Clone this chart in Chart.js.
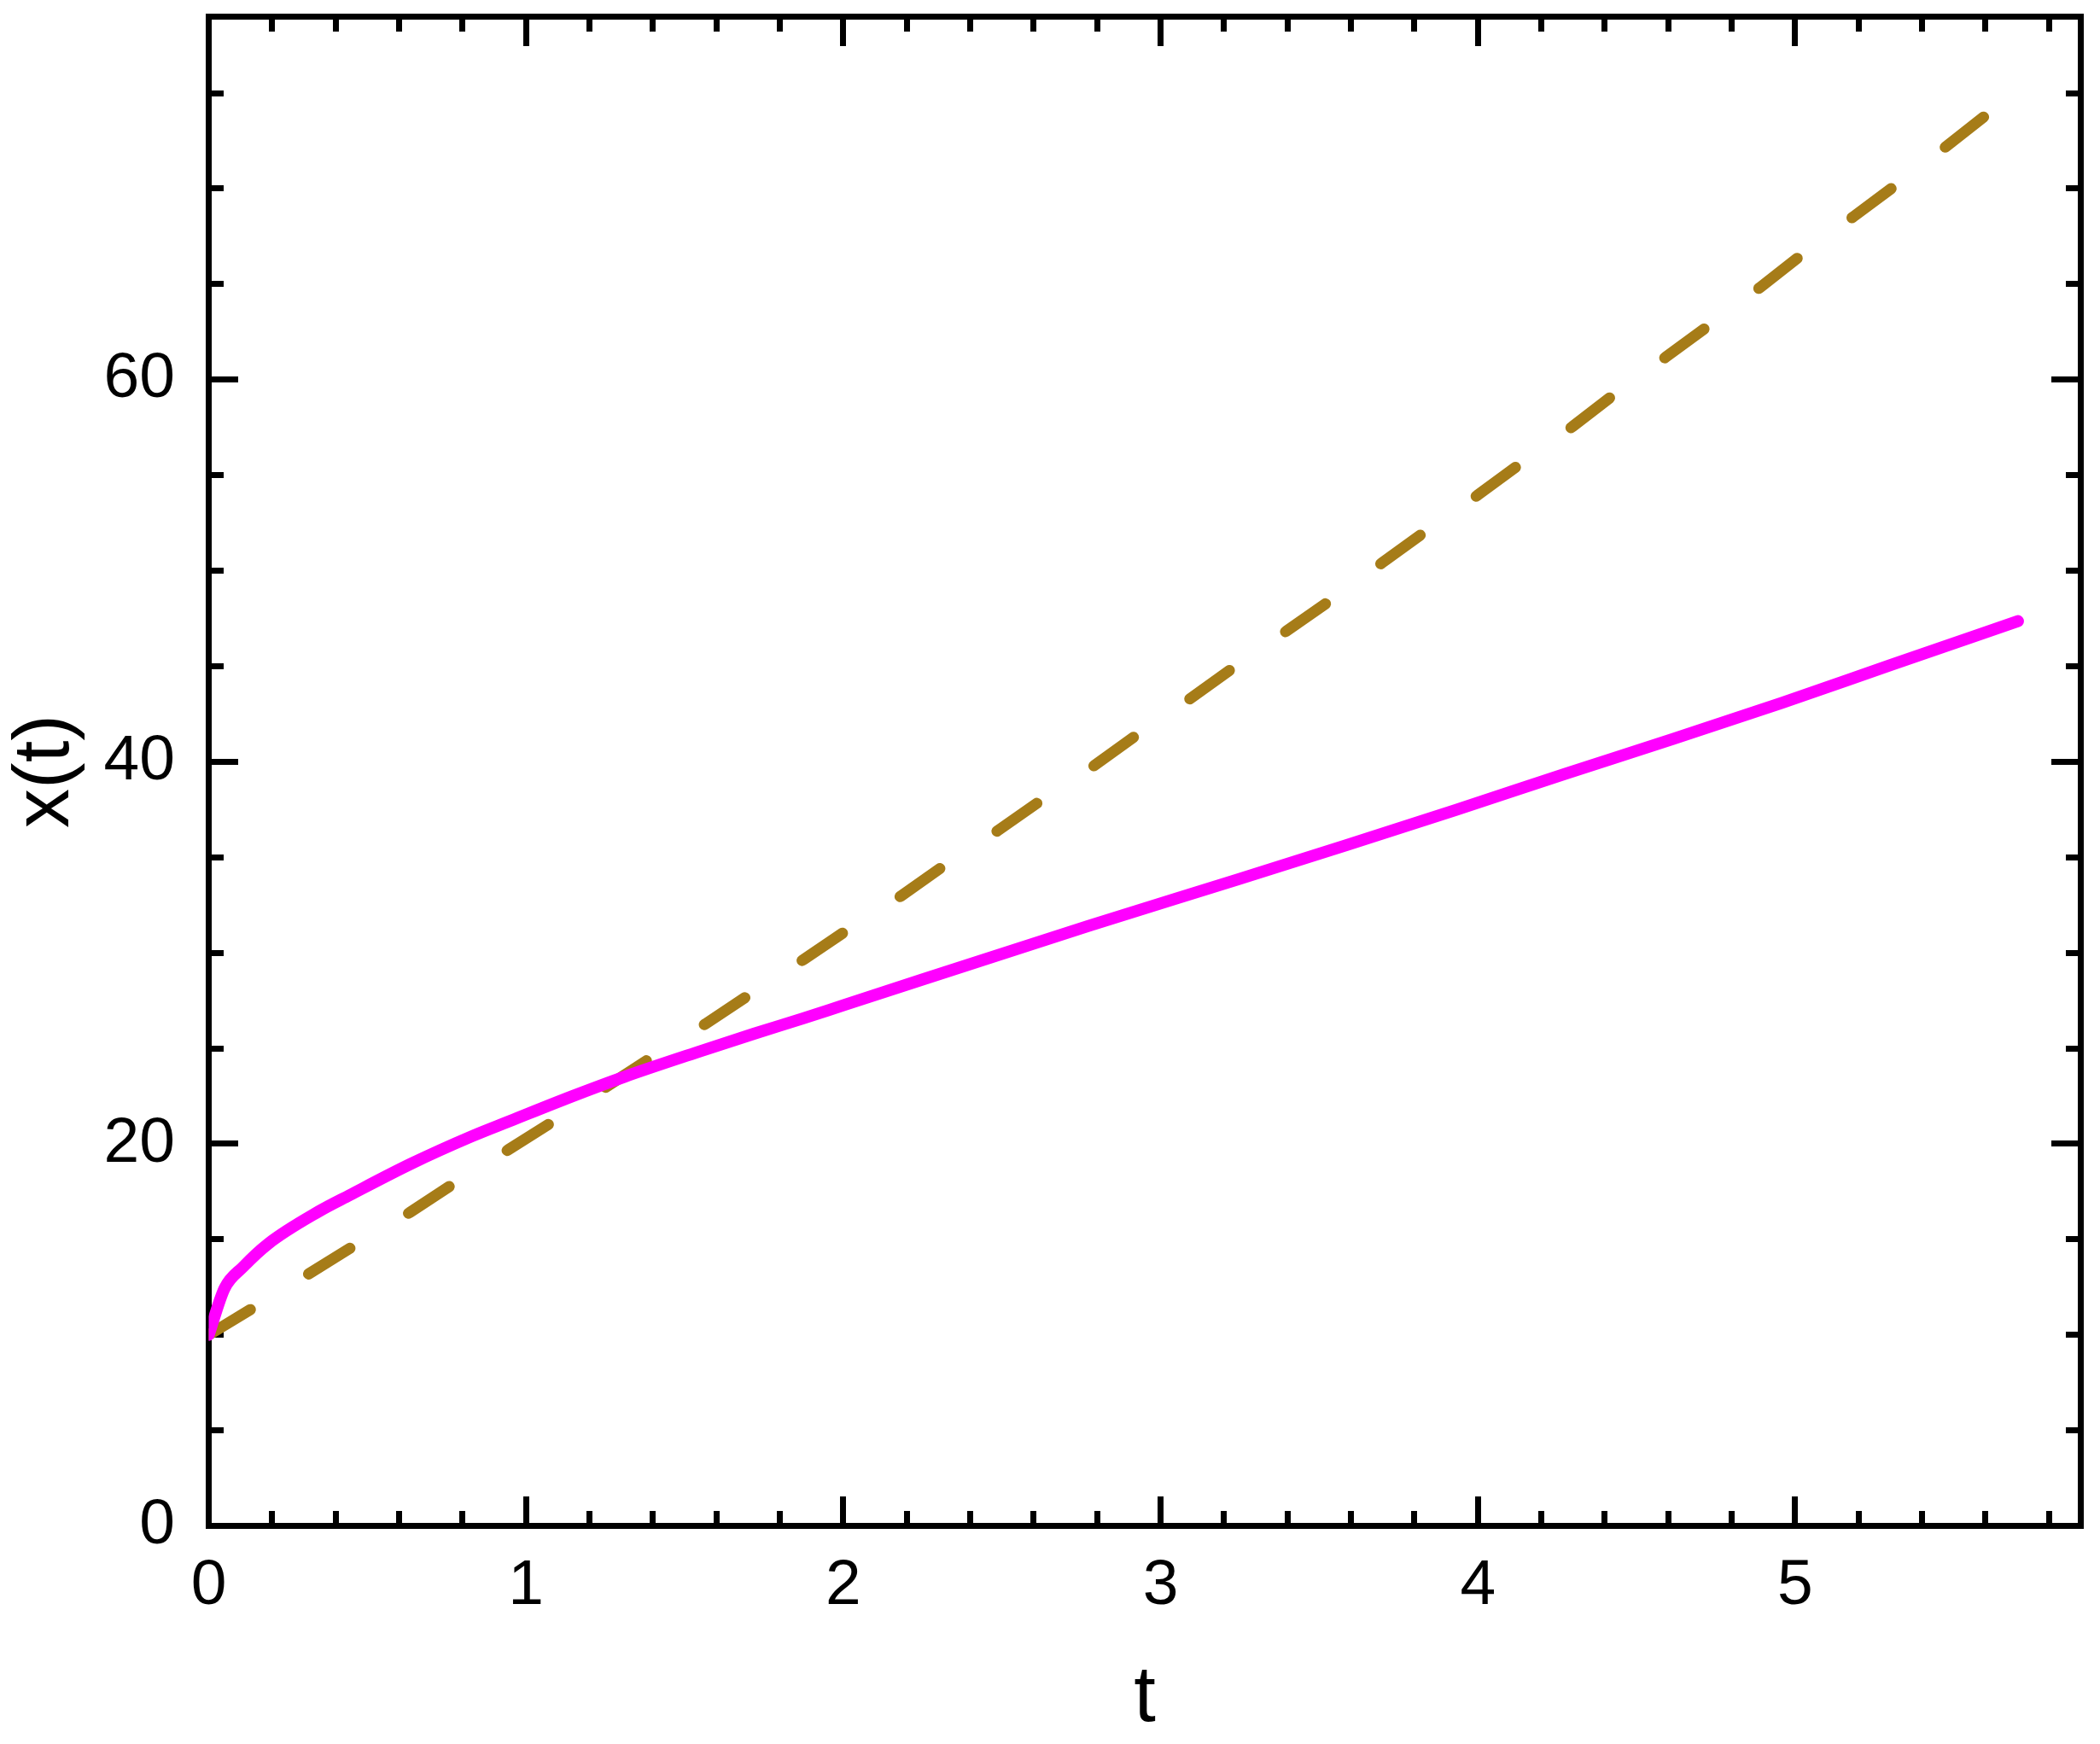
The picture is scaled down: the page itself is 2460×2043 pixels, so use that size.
<!DOCTYPE html>
<html>
<head>
<meta charset="utf-8">
<script src="https://cdn.jsdelivr.net/npm/chart.js@4"></script>
<style>
  html, body { margin: 0; padding: 0; background: #ffffff; overflow: hidden; }
  #wrap { width: 2460px; height: 2043px; }
  canvas { display: block; }
</style>
</head>
<body>
<div id="wrap"><canvas id="c" width="2460" height="2043"></canvas></div>
<script>
// ---- data ----
const tSolid = [0, 0.05, 0.108, 0.186, 0.348, 0.444, 0.637, 0.829, 0.949, 1.141, 1.309, 1.550, 1.718, 1.872, 2.0, 2.773, 3.244, 3.587, 3.930, 4.272, 4.615, 4.958, 5.300, 5.702];
const xSolid = [10, 12.44, 13.55, 14.75, 16.47, 17.31, 18.95, 20.39, 21.19, 22.46, 23.50, 24.85, 25.76, 26.56, 27.25, 31.41, 33.84, 35.64, 37.47, 39.35, 41.19, 43.08, 45.06, 47.36];

const tDashed = [0, 0.136, 0.312, 0.444, 0.633, 0.763, 0.945, 1.079, 1.385, 1.565, 1.70, 1.877, 2.006, 2.180, 2.311, 2.485, 2.614, 2.790, 2.918, 3.092, 3.221, 3.396, 3.525, 3.698, 3.821, 3.998, 4.124, 4.297, 4.422, 4.592, 4.714, 4.888, 5.010, 5.186, 5.313, 5.479, 5.604];
const xDashed = [10, 11.37, 13.16, 14.52, 16.40, 17.82, 19.70, 21.10, 24.41, 26.27, 27.76, 29.67, 31.12, 32.95, 34.49, 36.37, 37.87, 39.79, 41.32, 43.29, 44.83, 46.83, 48.33, 50.41, 51.89, 53.94, 55.48, 57.53, 59.13, 61.18, 62.67, 64.81, 66.40, 68.56, 70.13, 72.25, 73.88];

const xTickLabels = [0, 1, 2, 3, 4, 5];
const yTickLabels = [0, 20, 40, 60];
const xRange = [0, 5.9];
const yRange = [0, 79];
const xMinorStep = 0.2;
const yMinorStep = 5;
const xTitle = 't';
const yTitle = 'x(t)';

// ---- styles ----
const FONT = "'Liberation Sans', Arial, sans-serif";
const FRAME_W = 7;
const MAJOR_LEN = -34.5;
const MINOR_LEN = -17.5;

function pts(xs, ys) { return xs.map((v, i) => ({ x: v, y: ys[i] })); }
function noPad(s) { s.paddingTop = 0; s.paddingBottom = 0; s.paddingLeft = 0; s.paddingRight = 0; }

function majorAxis(pos, range, labels, size, extra) {
  const horiz = (pos === 'top' || pos === 'bottom');
  return Object.assign({
    type: 'linear', position: pos, min: range[0], max: range[1], weight: 1, z: 1,
    border: { display: true, width: FRAME_W, color: '#000' },
    grid: { drawOnChartArea: false, drawTicks: true, tickLength: MAJOR_LEN, tickWidth: FRAME_W, tickColor: '#000' },
    afterBuildTicks: s => { s.ticks = labels.map(v => ({ value: v })); },
    ticks: { display: false, autoSkip: false, includeBounds: false },
    afterFit: s => { if (horiz) s.height = size; else s.width = size; noPad(s); }
  }, extra || {});
}
function minorAxis(pos, range, step) {
  const horiz = (pos === 'top' || pos === 'bottom');
  return {
    type: 'linear', position: pos, min: range[0], max: range[1], weight: 0, z: 1,
    border: { display: false },
    grid: { drawOnChartArea: false, drawTicks: true, tickLength: MINOR_LEN, tickWidth: FRAME_W, tickColor: '#000' },
    ticks: { display: false, autoSkip: false, includeBounds: false, stepSize: step },
    afterFit: s => { if (horiz) s.height = 0; else s.width = 0; noPad(s); }
  };
}

const scales = {
  x: majorAxis('bottom', xRange, xTickLabels, 255.5, {
    ticks: { display: true, autoSkip: false, includeBounds: false, maxRotation: 0, minRotation: 0,
             padding: 60.5, color: '#000', font: { family: FONT, size: 75 } },
    title: { display: true, text: xTitle, color: '#000', font: { family: FONT, size: 92, lineHeight: 1 }, padding: { top: 0, bottom: 6 } }
  }),
  xMinor: minorAxis('bottom', xRange, xMinorStep),
  xTop: majorAxis('top', xRange, xTickLabels, 19.5),
  xTopMinor: minorAxis('top', xRange, xMinorStep),
  y: majorAxis('left', yRange, yTickLabels, 244.5, {
    ticks: { display: true, autoSkip: false, includeBounds: false,
             padding: 74, color: '#000', font: { family: FONT, size: 75 } },
    title: { display: true, text: yTitle, color: '#000', font: { family: FONT, size: 92, lineHeight: 1 }, padding: { top: 9, bottom: 0 } }
  }),
  yMinor: minorAxis('left', yRange, yMinorStep),
  yRight: majorAxis('right', yRange, yTickLabels, 22.5),
  yRightMinor: minorAxis('right', yRange, yMinorStep)
};

new Chart(document.getElementById('c'), {
  type: 'line',
  data: {
    datasets: [
      {
        label: 'solid',
        data: pts(tSolid, xSolid),
        xAxisID: 'x', yAxisID: 'y',
        borderColor: '#FF00FF',
        borderWidth: 14,
        borderCapStyle: 'round',
        borderJoinStyle: 'round',
        cubicInterpolationMode: 'monotone',
        pointRadius: 0,
        fill: false
      },
      {
        label: 'dashed',
        data: pts(tDashed, xDashed),
        xAxisID: 'x', yAxisID: 'y',
        borderColor: '#A67C18',
        borderWidth: 13,
        borderDash: [57, 80],
        borderCapStyle: 'round',
        borderJoinStyle: 'round',
        pointRadius: 0,
        tension: 0,
        fill: false
      }
    ]
  },
  options: {
    responsive: false,
    devicePixelRatio: 1,
    animation: false,
    layout: { padding: 0 },
    plugins: { legend: { display: false }, tooltip: { enabled: false } },
    scales: scales
  }
});
</script>
</body>
</html>
